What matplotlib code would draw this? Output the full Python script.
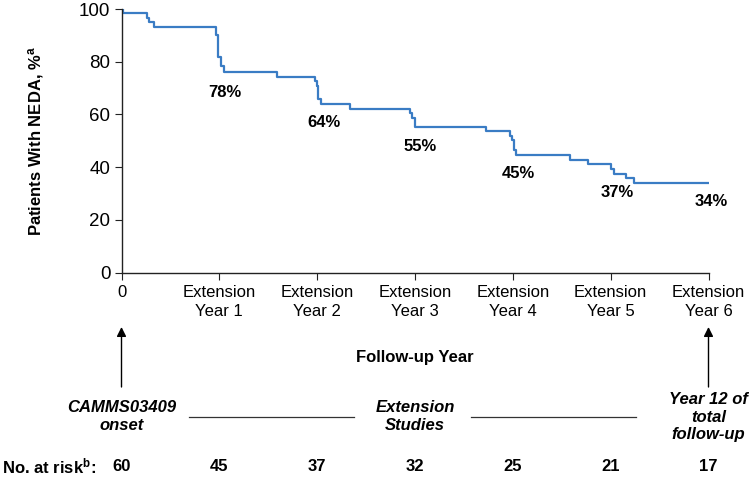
import matplotlib
matplotlib.use("Agg")
import matplotlib.pyplot as plt
import matplotlib.transforms as mtransforms

plt.rcParams['font.family'] = ['Liberation Sans', 'DejaVu Sans']
plt.rcParams['mathtext.default'] = 'regular'

# Kaplan-Meier style step data (years, % with NEDA)
years = [0.00, 0.02, 0.26, 0.28, 0.33, 0.97, 0.99, 1.02, 1.05, 1.59, 1.98, 2.00, 2.01, 2.04,
         2.34, 2.95, 2.97, 3.00, 3.73, 3.97, 3.99, 4.01, 4.03, 4.58, 4.77, 5.00, 5.03, 5.16,
         5.24, 6.00]
neda = [100, 98.3, 96.7, 95.0, 93.3, 90.0, 81.7, 78.3, 76.0, 74.3, 72.6, 70.9, 66.0, 64.0,
        62.2, 60.5, 58.8, 55.4, 53.6, 51.9, 50.2, 46.5, 44.8, 42.9, 41.2, 39.3, 37.5, 35.8,
        34.0, 34.0]

tick_pos = [0, 1, 2, 3, 4, 5, 6]
tick_labels = ['0', 'Extension\nYear 1', 'Extension\nYear 2', 'Extension\nYear 3',
               'Extension\nYear 4', 'Extension\nYear 5', 'Extension\nYear 6']

label_x = [1.06, 2.07, 3.05, 4.06, 5.07, 6.03]
label_y = [68.5, 56.8, 47.7, 37.8, 30.6, 26.9]
label_txt = ['78%', '64%', '55%', '45%', '37%', '34%']

at_risk = [60, 45, 37, 32, 25, 21, 17]

W, H = 749, 479
fig = plt.figure(figsize=(W / 100, H / 100), dpi=100)
ax = fig.add_axes([121.5 / W, 1 - 272.7 / H, (708.5 - 121.5) / W, (272.7 - 9) / H])

ax.step(years, neda, where='post', color='#3a7cc4', lw=1.6)
ax.set_xlim(0, 6)
ax.set_ylim(0, 100)
ax.set_yticks([0, 20, 40, 60, 80, 100])
ax.set_xticks(tick_pos)
ax.set_xticklabels(tick_labels, linespacing=1.3)
ax.tick_params(axis='x', labelsize=12, length=5, pad=4, color='#222222')
ax.tick_params(axis='y', labelsize=13.5, length=5, pad=3, color='#222222')
for s in ['top', 'right']:
    ax.spines[s].set_visible(False)
for s in ['left', 'bottom']:
    ax.spines[s].set_color('#222222')
    ax.spines[s].set_linewidth(1.0)

ax.set_ylabel(r'Patients With NEDA, %$^{\mathregular{a}}$', fontsize=12,
              fontweight='bold')
ax.yaxis.set_label_coords(-0.128, 0.5)

for x, y, t in zip(label_x, label_y, label_txt):
    ax.text(x, y, t, ha='center', va='center', fontsize=12, fontweight='bold')

# annotations below the axis: data x, figure y
tr = mtransforms.blended_transform_factory(ax.transData, fig.transFigure)

def fy(py):
    return 1 - py / H

ax.text(3, fy(357.3), 'Follow-up Year', transform=tr, ha='center', va='center',
        fontsize=12, fontweight='bold')

for x in [0, 6]:
    ax.annotate('', xy=(x, fy(327)), xytext=(x, fy(387)), xycoords=tr, textcoords=tr,
                arrowprops=dict(arrowstyle='-|>', color='black', lw=1.0,
                                mutation_scale=14, shrinkA=0, shrinkB=0))

ax.text(0, fy(416.7), 'CAMMS03409\nonset', transform=tr, ha='center', va='center',
        fontsize=12, fontweight='bold', style='italic', linespacing=1.3)
ax.text(3, fy(416.7), 'Extension\nStudies', transform=tr, ha='center', va='center',
        fontsize=12, fontweight='bold', style='italic', linespacing=1.3)
ax.text(6, fy(417), 'Year 12 of\ntotal\nfollow-up', transform=tr, ha='center', va='center',
        fontsize=12, fontweight='bold', style='italic', linespacing=1.2)

ax.plot([0.69, 2.375], [fy(417.3)] * 2, transform=tr, color='#333333', lw=0.9, clip_on=False)
ax.plot([3.576, 5.263], [fy(417.3)] * 2, transform=tr, color='#333333', lw=0.9, clip_on=False)

fig.text(2 / W, fy(466.7), r'No. at risk$^{\mathregular{b}}$:', ha='left', va='center',
         fontsize=12, fontweight='bold')
for x, n in zip(tick_pos, at_risk):
    ax.text(x, fy(466.7), str(n), transform=tr, ha='center', va='center',
            fontsize=12, fontweight='bold')

fig.savefig('out.png', dpi=100)
